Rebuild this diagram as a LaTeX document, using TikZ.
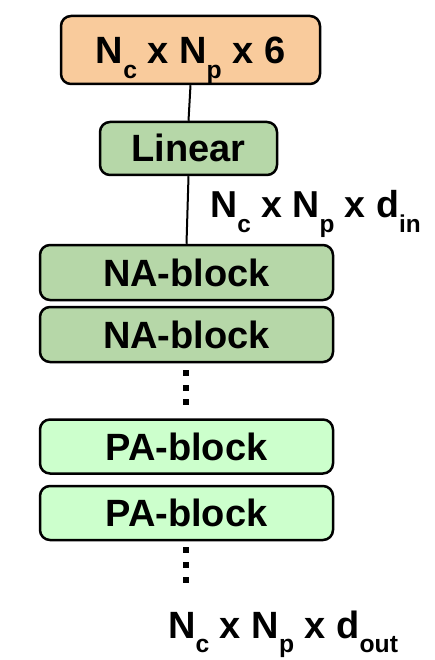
\documentclass[tikz,border=0pt]{standalone}
\usepackage{fontspec}
\usepackage{graphicx}
\setmainfont{Liberation Sans}
\definecolor{inorange}{HTML}{F9CB9C}
\definecolor{blockgreen}{HTML}{B6D7A8}
\definecolor{palegreen}{HTML}{CCFFCC}
% lowered, reduced subscript as used in the shape labels
\newcommand\lowsub[1]{\raisebox{-0.38em}{\scalebox{0.65}{#1}}}
\tikzset{
  blockbox/.style={draw=black, line width=2.5pt, rounded corners=10pt,
    inner sep=0pt, text height=27pt, text depth=0pt,
    font=\fontsize{38}{38}\selectfont\bfseries},
  link/.style={draw=black, line width=2pt},
  shapelabel/.style={inner sep=0pt, anchor=base west}
}
\begin{document}
\begin{tikzpicture}[x=1pt, y=-1pt]
  \useasboundingbox (0,0) rectangle (434,660);
  % input tensor and embedding
  \node[blockbox, fill=inorange, minimum width=259pt, minimum height=68pt,
        text height=28pt, font=\fontsize{38}{38}\selectfont\bfseries]
        (inp) at (190.5,50) {N\lowsub{c} x N\lowsub{p} x 6};
  \node[blockbox, fill=blockgreen, minimum width=177pt, minimum height=53pt,
        font=\fontsize{38}{38}\selectfont\bfseries]
        (lin) at (188.5,148.5) {Linear};
  % stacked attention blocks
  \node[blockbox, fill=blockgreen, minimum width=293pt, minimum height=55pt]
        (na1) at (186.5,272.5) {NA-block};
  \node[blockbox, fill=blockgreen, minimum width=293pt, minimum height=55pt]
        (na2) at (186.5,334.5) {NA-block};
  \node[blockbox, fill=palegreen, minimum width=293pt, minimum height=54pt]
        (pa1) at (186.5,446.5) {PA-block};
  \node[blockbox, fill=palegreen, minimum width=293pt, minimum height=54pt]
        (pa2) at (186.5,513) {PA-block};
  % connectors
  \draw[link] (inp.south) -- (lin.north);
  \draw[link] (lin.south) -- (na1.north);
  % vertical ellipses
  \foreach \yy in {373,388,402,550,565,580}
    \fill (183,\yy-3) rectangle (189,\yy+3);
  % tensor shapes
  \node[shapelabel, font=\fontsize{37.5}{37.5}\selectfont\bfseries]
        (dinlbl) at (210,218) {N\lowsub{c} x N\lowsub{p} x d\lowsub{in}};
  \node[shapelabel, font=\fontsize{38}{38}\selectfont\bfseries]
        (doutlbl) at (168,638) {N\lowsub{c} x N\lowsub{p} x d\lowsub{out}};
\end{tikzpicture}
\end{document}
